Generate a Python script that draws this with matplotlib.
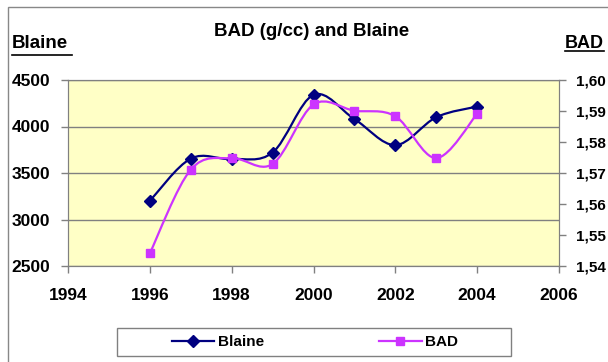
import numpy as np
import matplotlib
matplotlib.use('Agg')
import matplotlib.pyplot as plt
from matplotlib.path import Path
from matplotlib.patches import PathPatch, Rectangle
from matplotlib.lines import Line2D
from matplotlib.ticker import FuncFormatter

plt.rcParams['font.family'] = ['Liberation Sans', 'DejaVu Sans']
plt.rcParams['font.weight'] = 'bold'

years = [1996, 1997, 1998, 1999, 2000, 2001, 2002, 2003, 2004]
blaine = [3200, 3655, 3650, 3720, 4340, 4080, 3800, 4100, 4215]
bad = [1.5441, 1.5711, 1.5748, 1.5729, 1.5921, 1.5901, 1.5883, 1.5748, 1.5891]

c_blaine = '#000080'
c_bad = '#CC33FF'

def smooth_patch(x, y, color, ax):
    # excel style smoothed line: catmull-rom as cubic bezier segments
    x = np.asarray(x, float)
    y = np.asarray(y, float)
    n = len(x)
    verts = [(x[0], y[0])]
    codes = [Path.MOVETO]
    for i in range(n - 1):
        p0 = np.array([x[max(i-1, 0)], y[max(i-1, 0)]])
        p1 = np.array([x[i], y[i]])
        p2 = np.array([x[i+1], y[i+1]])
        p3 = np.array([x[min(i+2, n-1)], y[min(i+2, n-1)]])
        c1 = p1 + (p2 - p0) / 6.0
        c2 = p2 - (p3 - p1) / 6.0
        verts += [tuple(c1), tuple(c2), tuple(p2)]
        codes += [Path.CURVE4] * 3
    patch = PathPatch(Path(verts, codes), facecolor='none', edgecolor=color, lw=1.6, zorder=3)
    ax.add_patch(patch)

fig = plt.figure(figsize=(6.08, 3.62), dpi=100)
W, H = 608.0, 362.0

# outer chart border
fig.patches.append(Rectangle((8/W, -0.05), 1.2, (362-7)/H + 0.05, transform=fig.transFigure,
                             facecolor='none', edgecolor='#888888', lw=1.0))

ax = fig.add_axes([68/W, 1-266/H, (559-68)/W, (266-80)/H])
ax.set_facecolor('#FFFFC6')
ax.set_xlim(1994, 2006)
ax.set_ylim(2500, 4500)
ax.set_yticks([2500, 3000, 3500, 4000, 4500])
ax.set_xticks([1994, 1996, 1998, 2000, 2002, 2004, 2006])
ax.grid(axis='y', color='#808080', lw=1.0)
for s in ax.spines.values():
    s.set_color('#808080')
ax.tick_params(labelsize=12.5, color='#808080', length=5, width=1)
ax.tick_params(axis='x', pad=11)
ax.tick_params(axis='y', pad=8)

smooth_patch(years, blaine, c_blaine, ax)
ax.plot(years, blaine, ls='none', marker='D', ms=6.5, color=c_blaine, zorder=4)

ax2 = ax.twinx()
ax2.set_ylim(1.54, 1.60)
ax2.set_yticks([1.54, 1.55, 1.56, 1.57, 1.58, 1.59, 1.60])
ax2.yaxis.set_major_formatter(FuncFormatter(lambda v, p: ('%.2f' % v).replace('.', ',')))
ax2.tick_params(labelsize=11, color='#808080', length=5, width=1, pad=7)
for s in ax2.spines.values():
    s.set_color('#808080')
smooth_patch(years, bad, c_bad, ax2)
ax2.plot(years, bad, ls='none', marker='s', ms=6, color=c_bad, zorder=4)

fig.text(312/W, 1-31/H, 'BAD (g/cc) and Blaine', ha='center', va='center', fontsize=13.5, fontweight='bold')
fig.text(12/W, 1-44/H, 'Blaine', ha='left', va='center', fontsize=13.5, fontweight='bold')
fig.text(565/W, 1-43/H, 'BAD', ha='left', va='center', fontsize=13, fontweight='bold')
fig.lines.append(Line2D([12/W, 72/W], [1-55/H, 1-55/H], transform=fig.transFigure, color='black', lw=1.2))
fig.lines.append(Line2D([565/W, 604/W], [1-51/H, 1-51/H], transform=fig.transFigure, color='black', lw=1.2))

# legend frame
fig.patches.append(Rectangle((117/W, 1-356/H), (511-117)/W, 28/H, transform=fig.transFigure,
                             facecolor='white', edgecolor='#808080', lw=1.0))
h1 = Line2D([], [], color=c_blaine, marker='D', ms=6.5, lw=1.6)
h2 = Line2D([], [], color=c_bad, marker='s', ms=6, lw=1.6)
leg = fig.legend([h1, h2], ['Blaine', 'BAD'], ncol=2, loc='center',
                 bbox_to_anchor=(315/W, 1-342/H), frameon=False,
                 handlelength=2.8, handletextpad=0.25, columnspacing=7.5,
                 prop={'weight': 'bold', 'size': 11})

plt.savefig('out.png', dpi=100)
